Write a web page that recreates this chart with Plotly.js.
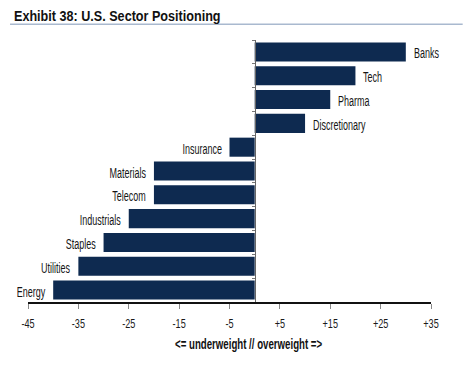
<!DOCTYPE html>
<html>
<head>
<meta charset="utf-8">
<script src="https://cdn.plot.ly/plotly-3.0.1.min.js"></script>
<style>html,body{margin:0;padding:0;background:#fff;}#chart{width:469px;height:367px;}</style>
</head>
<body>
<div id="chart"></div>
<script>
const categories = ["Banks","Tech","Pharma","Discretionary","Insurance","Materials","Telecom","Industrials","Staples","Utilities","Energy"];
const positioning = [30, 20, 15, 10, -5, -20, -20, -25, -30, -35, -40];
const tickValues = [-45, -35, -25, -15, -5, 5, 15, 25, 35];
const tickLabels = ["-45", "-35", "-25", "-15", "-5", "+5", "+15", "+25", "+35"];
const chartTitle = "Exhibit 38: U.S. Sector Positioning";
const axisTitle = "<= underweight // overweight =>";

const FONT = '"Liberation Sans", Arial, sans-serif';
const BAR = '#0e2a50';

const trace = {
  type: 'bar',
  orientation: 'h',
  x: positioning,
  y: categories,
  marker: {color: BAR, line: {width: 0}},
  hoverinfo: 'none'
};

const labelAnns = categories.map((c, i) => ({
  x: positioning[i], y: c, xref: 'x', yref: 'y',
  text: c, showarrow: false,
  xanchor: positioning[i] >= 0 ? 'left' : 'right',
  xshift: positioning[i] >= 0 ? 6 : -6,
  yshift: -1,
  font: {family: FONT, size: 15.5, color: '#151515'}
}));

const annotations = labelAnns.concat([
  {xref: 'paper', yref: 'paper', x: -0.04, y: 1.0935, xanchor: 'left', yanchor: 'middle',
   text: '<b>' + chartTitle + '</b>', showarrow: false,
   font: {family: FONT, size: 15, color: '#111'}},
  {xref: 'paper', yref: 'paper', x: 0.546, y: -0.160, xanchor: 'center', yanchor: 'middle',
   text: '<b>' + axisTitle.replace(/</g,'&lt;').replace(/>/g,'&gt;') + '</b>', showarrow: false,
   font: {family: FONT, size: 14, color: '#111'}}
]);
// horizontal squeeze factors (reference uses a narrow typeface)
const squeezeFactors = annotations.map((a, i) => i < categories.length ? 0.58 : (i === categories.length ? 0.84 : 0.69));

const layout = {
  width: 469, height: 367,
  margin: {l: 28, r: 38, t: 40, b: 65, pad: 0},
  paper_bgcolor: '#fff', plot_bgcolor: '#fff',
  showlegend: false,
  bargap: 0.2,
  font: {family: FONT, size: 12, color: '#1a1a1a'},
  xaxis: {
    range: [-45, 35], fixedrange: true,
    tickmode: 'array', tickvals: tickValues, ticktext: tickLabels,
    ticks: 'outside', ticklen: 5, tickcolor: '#888', tickwidth: 1,
    ticklabelstandoff: 4,
    showline: true, linecolor: '#111', linewidth: 1.5,
    showgrid: false, zeroline: false,
    tickfont: {family: FONT, size: 13, color: '#1a1a1a'}
  },
  yaxis: {
    type: 'category', autorange: 'reversed',
    anchor: 'free', position: 45/80,
    showticklabels: false,
    ticks: 'outside', tickson: 'boundaries', ticklen: 3, tickcolor: '#777',
    showline: true, linecolor: '#666', linewidth: 1,
    showgrid: false, zeroline: false
  },
  annotations: annotations,
  shapes: [
    {type: 'line', xref: 'paper', yref: 'paper', x0: -0.0446, x1: 1.0786, y0: 1.06, y1: 1.06,
     line: {color: '#a9b9cf', width: 1.5}}
  ]
};

function squeeze(el, s, anchor) {
  const b0 = el.getBBox();
  const len = el.getComputedTextLength();
  if (!len) return;
  el.setAttribute('textLength', (len * s).toFixed(2));
  el.setAttribute('lengthAdjust', 'spacingAndGlyphs');
  const b1 = el.getBBox();
  let dx;
  if (anchor === 'left') dx = b0.x - b1.x;
  else if (anchor === 'right') dx = (b0.x + b0.width) - (b1.x + b1.width);
  else dx = (b0.x + b0.width / 2) - (b1.x + b1.width / 2);
  const t = el.getAttribute('transform') || '';
  el.setAttribute('transform', t + ' translate(' + dx.toFixed(2) + ',0)');
}

Plotly.newPlot('chart', [trace], layout, {displayModeBar: false, staticPlot: true}).then(gd => {
  gd.querySelectorAll('g.annotation').forEach(g => {
    const i = +g.getAttribute('data-index');
    const txt = g.querySelector('text.annotation-text');
    if (txt) squeeze(txt, squeezeFactors[i], annotations[i].xanchor);
  });
  gd.querySelectorAll('g.xtick text').forEach(t => squeeze(t, 0.7, 'center'));
});
</script>
</body>
</html>
